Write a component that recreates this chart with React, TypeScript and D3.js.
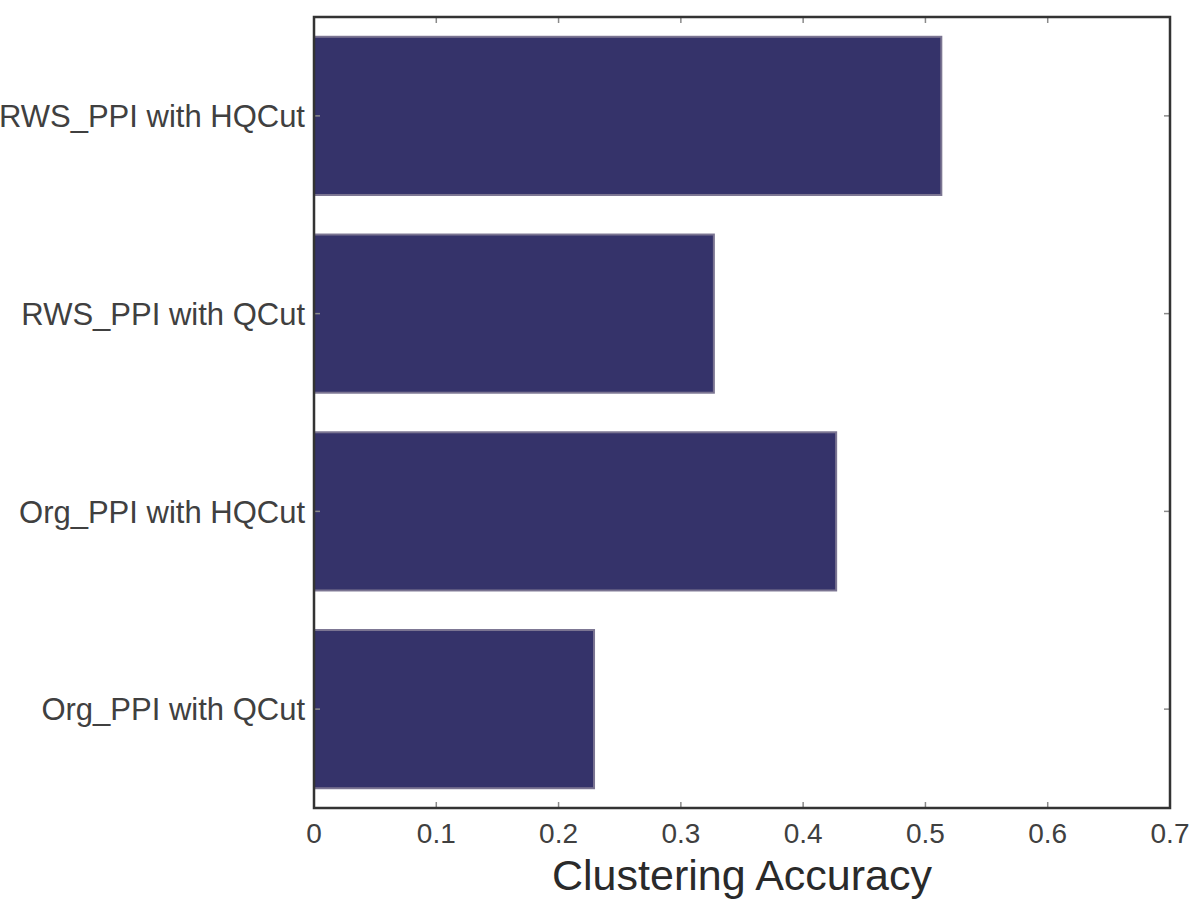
import React from 'react'
import * as d3 from 'd3'

const categories = ['RWS_PPI with HQCut', 'RWS_PPI with QCut', 'Org_PPI with HQCut', 'Org_PPI with QCut']
const accuracy = [0.513, 0.327, 0.427, 0.229]
const xTicks = [0, 0.1, 0.2, 0.3, 0.4, 0.5, 0.6, 0.7]

const W = 1200
const H = 910
const margin = { top: 17, right: 30, bottom: 102, left: 314 }

const App = () => {
  const plotW = W - margin.left - margin.right
  const plotH = H - margin.top - margin.bottom

  const x = d3.scaleLinear().domain([0, 0.7]).range([0, plotW])
  const y = d3.scaleBand().domain(categories).range([0, plotH]).paddingInner(0.2).paddingOuter(0.1)

  const font = 'Liberation Sans, Arial, Helvetica, sans-serif'
  const textColor = '#404040'
  const tickLen = 6

  return (
    <svg width={W} height={H} style={{ position: 'absolute', left: 0, top: 0, background: '#fff' }}>
      <g transform={`translate(${margin.left},${margin.top})`}>
        {/* bars */}
        {categories.map((c, i) => (
          <rect
            key={c}
            x={x(0)}
            y={y(c)}
            width={x(accuracy[i]) - x(0)}
            height={y.bandwidth()}
            fill="#35336a"
            stroke="#7b7592"
            strokeWidth={2}
          />
        ))}

        {/* x ticks, bottom and top, pointing inward */}
        {xTicks.map((t) => (
          <g key={t}>
            <line x1={x(t)} x2={x(t)} y1={plotH} y2={plotH - tickLen} stroke="#8a8a8a" strokeWidth={1.5} />
            <line x1={x(t)} x2={x(t)} y1={0} y2={tickLen} stroke="#8a8a8a" strokeWidth={1.5} />
            <text
              x={x(t)}
              y={plotH + 35}
              textAnchor="middle"
              fontFamily={font}
              fontSize={28}
              fill={textColor}
            >
              {d3.format('')(t)}
            </text>
          </g>
        ))}

        {/* y ticks and labels */}
        {categories.map((c) => {
          const cy = (y(c) as number) + y.bandwidth() / 2
          return (
            <g key={c}>
              <line x1={0} x2={tickLen} y1={cy} y2={cy} stroke="#8a8a8a" strokeWidth={1.5} />
              <line x1={plotW} x2={plotW - tickLen} y1={cy} y2={cy} stroke="#8a8a8a" strokeWidth={1.5} />
              <text
                x={-9}
                y={cy}
                dy="0.36em"
                textAnchor="end"
                fontFamily={font}
                fontSize={31}
                fill={textColor}
              >
                {c}
              </text>
            </g>
          )
        })}

        {/* frame */}
        <rect x={0} y={0} width={plotW} height={plotH} fill="none" stroke="#333" strokeWidth={2.5} />

        <text
          x={plotW / 2}
          y={plotH + 82}
          textAnchor="middle"
          fontFamily={font}
          fontSize={43}
          fill="#2a2a2a"
        >
          Clustering Accuracy
        </text>
      </g>
    </svg>
  )
}

export default App
